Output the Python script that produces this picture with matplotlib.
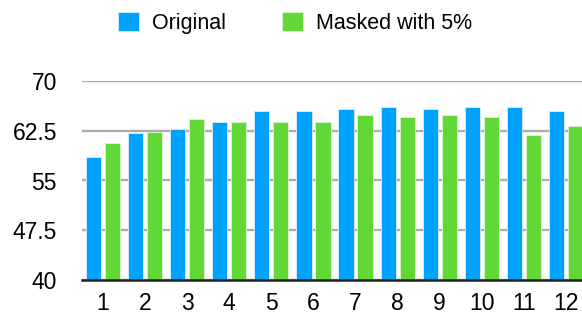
import matplotlib
matplotlib.use("Agg")
import matplotlib.pyplot as plt
import numpy as np

categories = ["1", "2", "3", "4", "5", "6", "7", "8", "9", "10", "11", "12"]
original = [58.5, 62.15, 62.7, 63.85, 65.45, 65.45, 65.75, 66.05, 65.75, 66.05, 66.05, 65.45]
masked = [60.6, 62.35, 64.2, 63.85, 63.85, 63.85, 64.85, 64.5, 64.85, 64.5, 61.9, 63.25]
yticks = [40, 47.5, 55, 62.5, 70]
ytick_labels = ["40", "47.5", "55", "62.5", "70"]

plt.rcParams['font.family'] = ['Liberation Sans', 'DejaVu Sans']

W, H = 582, 315
fig = plt.figure(figsize=(W / 100, H / 100), dpi=100)
ax = fig.add_axes([82 / W, 1 - 280 / H, 505 / W, 199 / H])

x = np.arange(1, len(categories) + 1)
bw = 0.36
off = 0.225
ax.bar(x - off, original, bw, color="#00A2FF", edgecolor="#d8eefa", linewidth=0.6,
       label="Original", zorder=3)
ax.bar(x + off, masked, bw, color="#61D836", edgecolor="#dff5d5", linewidth=0.6,
       label="Masked with 5%", zorder=3)

ax.set_xlim(0.5, 12.5)
ax.set_ylim(40, 70)
ax.set_yticks(yticks)
ax.set_yticklabels(ytick_labels)
ax.set_xticks(x)
ax.set_xticklabels(categories)
ax.tick_params(axis="both", length=0, labelsize=16.5, colors="black")
ax.tick_params(axis="y", pad=18)
ax.tick_params(axis="x", pad=9)
ax.set_axisbelow(True)
ax.grid(axis="y", color="#adadad", linewidth=1.7)
for s in ["top", "right", "left"]:
    ax.spines[s].set_visible(False)
ax.spines["bottom"].set_color("#222222")
ax.spines["bottom"].set_linewidth(1.8)
ax.spines["bottom"].set_zorder(4)

fig.legend(loc="center", bbox_to_anchor=(295 / W, 1 - 23 / H), ncol=2, frameon=False,
           fontsize=15.5, handlelength=1.0, handleheight=1.0, columnspacing=2.6,
           handletextpad=0.6)

fig.savefig("out.png", dpi=100)
